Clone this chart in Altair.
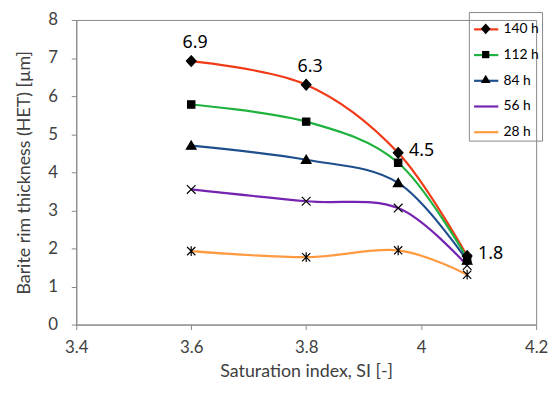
import altair as alt
import pandas as pd

si = [3.6, 3.8, 3.96, 4.08]
series = ["140 h", "112 h", "84 h", "56 h", "28 h"]
values = {
    "140 h": [6.92, 6.30, 4.51, 1.80],
    "112 h": [5.78, 5.33, 4.25, 1.74],
    "84 h": [4.70, 4.33, 3.72, 1.68],
    "56 h": [3.55, 3.24, 3.06, 1.55],
    "28 h": [1.93, 1.77, 1.95, 1.31],
}
colors = ["#f03a17", "#1fb23e", "#1f4e8c", "#7424b0", "#ff9a40"]
# marker outlines, drawn small inside a large symbol box so that the
# legend's line and its marker share one layout
shapes = [
    "M0,-0.44L0.4,0L0,0.44L-0.4,0Z",
    "M-0.3,-0.3L0.3,-0.3L0.3,0.3L-0.3,0.3Z",
    "M0,-0.38L0.4,0.3L-0.4,0.3Z",
    "M-0.36,-0.36L0.36,0.36M-0.36,0.36L0.36,-0.36",
    "M-0.34,-0.34L0.34,0.34M-0.34,0.34L0.34,-0.34M0,-0.4L0,0.4",
]

x_ticks = [3.4, 3.6, 3.8, 4.0, 4.2]
y_ticks = [0, 1, 2, 3, 4, 5, 6, 7, 8]

ann_x = [3.6, 3.8, 3.96, 4.08]
ann_y = [6.92, 6.30, 4.51, 1.80]
ann_text = ["6.9", "6.3", "4.5", "1.8"]
ann_side = ["top", "top", "right", "right"]

rows = []
for s in series:
    for i, x in enumerate(si):
        rows.append({"si": x, "het": values[s][i], "series": s, "order": i})
df = pd.DataFrame(rows)
ann = pd.DataFrame({"si": ann_x, "het": ann_y, "text": ann_text, "side": ann_side})

FONT = "Lato"
TXT = "#404040"

xscale = alt.Scale(domain=[3.4, 4.2], nice=False, zero=False)
yscale = alt.Scale(domain=[0, 8], nice=False)

x = alt.X("si:Q", scale=xscale,
          axis=alt.Axis(values=x_ticks, format="~g",
                        title="Saturation index, SI [-]", grid=False,
                        tickSize=5, labelPadding=10, titlePadding=8,
                        labelOverlap=False, labelFlush=False,
                        labelFontSize=17, titleFontSize=18))
y = alt.Y("het:Q", scale=yscale,
          axis=alt.Axis(values=y_ticks, format="d", title="Barite rim thickness (HET) [µm]",
                        grid=False, tickSize=5, labelPadding=14, titlePadding=14,
                        labelOverlap=False, labelFlush=False,
                        labelFontSize=17, titleFontSize=18))

legend_common = dict(title=None, orient="none", legendX=397, legendY=-8,
                     symbolSize=600, labelFont=FONT, labelFontSize=14,
                     padding=4, rowPadding=5, labelOffset=4)

color_enc = alt.Color("series:N", scale=alt.Scale(domain=series, range=colors),
                      legend=alt.Legend(symbolType="stroke", symbolStrokeWidth=2.2,
                                        labelColor="#000", **legend_common))
shape_enc = alt.Shape("series:N", scale=alt.Scale(domain=series, range=shapes),
                      legend=alt.Legend(symbolFillColor="black",
                                        symbolStrokeColor="black", symbolStrokeWidth=1.2,
                                        labelOpacity=0, strokeColor="#888",
                                        **legend_common))

lines = alt.Chart(df).mark_line(interpolate="cardinal", strokeWidth=2.2).encode(
    x=x, y=y, color=color_enc, detail="series:N", order="order:Q")
points = alt.Chart(df).mark_point(fill="black", stroke="black", strokeWidth=1.2,
                                  opacity=1, size=600).encode(
    x=x, y=y, shape=shape_enc)

top_text = alt.Chart(ann).transform_filter(alt.datum.side == "top").mark_text(
    font="Noto Sans", fontSize=18, dy=-18, dx=4, color="#000").encode(
    x=x, y=y, text="text:N")
right_text = alt.Chart(ann).transform_filter(alt.datum.side == "right").mark_text(
    font="Noto Sans", fontSize=18, dx=11, dy=-2, align="left", color="#000").encode(
    x=x, y=y, text="text:N")

chart = alt.layer(lines, points, top_text, right_text).resolve_legend(
    color="independent", shape="independent").properties(
    width=465, height=308,
    autosize=alt.AutoSizeParams(type="none"),
    padding={"left": 69, "top": 10, "right": 12, "bottom": 60},
).configure_view(stroke="#888", strokeWidth=1).configure_axis(
    labelFont=FONT, titleFont=FONT,
    labelColor=TXT, titleColor=TXT, titleFontWeight="normal",
    domainColor="#888", tickColor="#888")

chart.save("out.html", embed_options={"renderer": "svg", "actions": False})
